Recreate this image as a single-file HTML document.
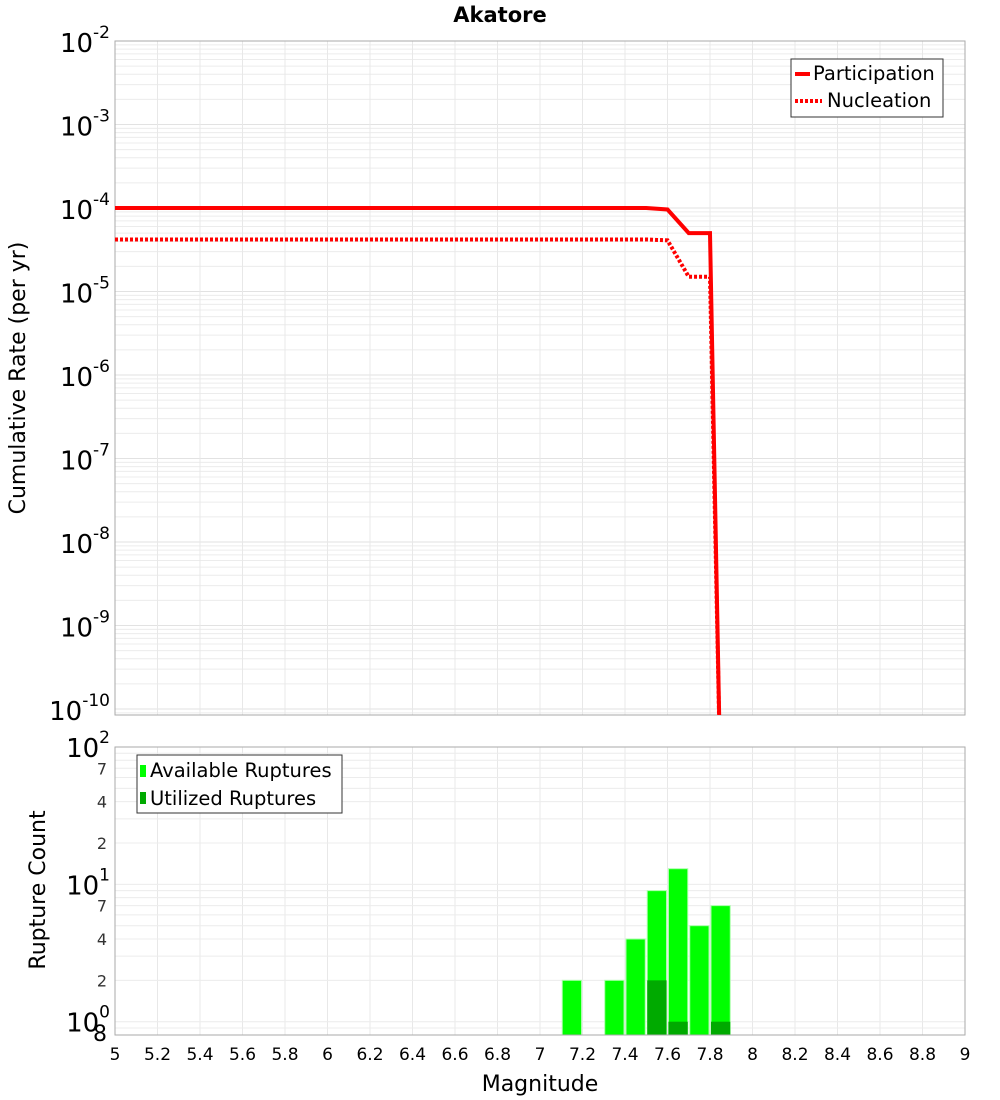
<!DOCTYPE html>
<html><head><meta charset="utf-8"><style>
body{margin:0;background:#fff;font-family:"Liberation Sans","DejaVu Sans",sans-serif}
svg{display:block}
</style></head><body>
<svg id="c" width="1000" height="1100" xmlns="http://www.w3.org/2000/svg">
<defs><clipPath id="clipT"><rect x="115" y="41" width="850" height="674"/></clipPath></defs>
<text x="500" y="22" text-anchor="middle" font-size="21" font-weight="bold" font-family="DejaVu Sans, sans-serif">Akatore</text>
<g id="gtop"></g><g id="gbot"></g>
<text transform="translate(25,378) rotate(-90)" text-anchor="middle" font-size="22" font-family="DejaVu Sans, sans-serif">Cumulative Rate (per yr)</text>
<text transform="translate(45,890) rotate(-90)" text-anchor="middle" font-size="22" font-family="DejaVu Sans, sans-serif">Rupture Count</text>
<text x="540" y="1091" text-anchor="middle" font-size="22" font-family="DejaVu Sans, sans-serif">Magnitude</text>
<g id="legs"></g>
</svg>
<script>
const mags=[5,7.5,7.6,7.7,7.8,7.85];
const partRate=[1e-4,1e-4,9.6e-5,5.0e-5,5.0e-5,1e-11];
const nuclRate=[4.2e-5,4.2e-5,4.1e-5,1.5e-5,1.5e-5,1e-11];
const binStarts=[7.1,7.3,7.4,7.5,7.6,7.7,7.8];
const available=[2,2,4,9,13,5,7];
const utilized=[0,0,0,2,1,0,1];
const xTicks=[5,5.2,5.4,5.6,5.8,6,6.2,6.4,6.6,6.8,7,7.2,7.4,7.6,7.8,8,8.2,8.4,8.6,8.8,9];
const NS="http://www.w3.org/2000/svg";
const X0=115,X1=965;
const xs=m=>X0+(m-5)/4*(X1-X0);
const TT=41,TB=715,tMax=-2,tMin=-2-(TB-TT)/83.5;
const yt=v=>TT+(tMax-Math.log10(v))/(tMax-tMin)*(TB-TT);
const BT=747,BB=1035,bMax=2,bMin=Math.log10(0.8);
const yb=v=>BT+(bMax-Math.log10(Math.max(v,0.8)))/(bMax-bMin)*(BB-BT);
function mk(p,t,a){const e=document.createElementNS(NS,t);for(const k in a)e.setAttribute(k,a[k]);p.appendChild(e);return e;}
const gTop=document.getElementById('gtop'),gBot=document.getElementById('gbot');
for(let d=-11;d<-2;d++)for(let k=1;k<10;k++){const v=k*Math.pow(10,d);const yy=yt(v);if(yy<TT||yy>TB)continue;
const l=mk(gTop,'line',{x1:X0,x2:X1,y1:yy,y2:yy,stroke:k==1?'#e2e2e2':'#ececec','stroke-width':1});

}
xTicks.forEach(m=>{[gTop,gBot].forEach((g,i)=>{const l=mk(g,'line',{x1:xs(m),x2:xs(m),y1:i?BT:TT,y2:i?BB:TB,stroke:'#e8e8e8'});

});
const t=mk(gBot,'text',{x:xs(m),y:1060,'text-anchor':'middle','font-size':17,'font-family':'DejaVu Sans, sans-serif'});t.textContent=String(m);

});
for(let d=-10;d<=-2;d++){const t=mk(gTop,'text',{x:110,y:yt(Math.pow(10,d))+11,'text-anchor':'end','font-size':26,'font-family':'DejaVu Sans, sans-serif'});


const a=mk(t,'tspan',{});a.textContent='10';const s=mk(t,'tspan',{dy:-14,'font-size':17});s.textContent=String(d);}
mk(gTop,'rect',{x:X0,y:TT,width:X1-X0,height:TB-TT,fill:'none',stroke:'#aaa'});
function line(arr,dash,name){const pts=mags.map((m,i)=>xs(m)+','+yt(arr[i])).join(' ');
const p=mk(gTop,'polyline',{points:pts,fill:'none',stroke:'#f00','stroke-width':4,'stroke-dasharray':dash||'none','clip-path':'url(#clipT)'});

}
line(nuclRate,'3,2','nucleation-line');line(partRate,'','participation-line');
for(let d=-1;d<2;d++)for(let k=1;k<10;k++){const v=k*Math.pow(10,d);if(v<0.8)continue;const yy=yb(v);
const l=mk(gBot,'line',{x1:X0,x2:X1,y1:yy,y2:yy,stroke:'#ececec'});

}
[[100,'10','2'],[10,'10','1'],[1,'10','0']].forEach(([v,b,e])=>{const t=mk(gBot,'text',{x:110,y:yb(v)+10,'text-anchor':'end','font-size':26,'font-family':'DejaVu Sans, sans-serif'});


const a=mk(t,'tspan',{});a.textContent=b;const s=mk(t,'tspan',{dy:-14,'font-size':17});s.textContent=e;});
[70,40,20,7,4,2,0.8].forEach(v=>{const t=mk(gBot,'text',{x:107,y:yb(v)+6,'text-anchor':'end','font-size':v==0.8?22:16,'font-family':'DejaVu Sans, sans-serif',fill:v==0.8?'#000':'#333'});
t.textContent=v==0.8?'8':String(v>=10?v/10:v);

});
binStarts.forEach((m,i)=>{const r=mk(gBot,'rect',{x:xs(m)+1,y:yb(available[i]),width:xs(m+0.1)-xs(m)-2,height:BB-yb(available[i]),fill:'#00ff00',stroke:'#aaffaa','stroke-width':1});


if(utilized[i]>0){const u=mk(gBot,'rect',{x:xs(m)+1,y:yb(utilized[i]),width:xs(m+0.1)-xs(m)-2,height:BB-yb(utilized[i]),fill:'#00aa00'});

}});
mk(gBot,'rect',{x:X0,y:BT,width:X1-X0,height:BB-BT,fill:'none',stroke:'#aaa'});
document.getElementById('legs').innerHTML=`
<g>
<rect x="791" y="59" width="152" height="58" fill="#fff" stroke="#333"/>
<line x1="795" y1="74" x2="810" y2="74" stroke="#f00" stroke-width="4"/>
<text x="813" y="80" font-size="19.5" font-family="DejaVu Sans, sans-serif">Participation</text>
<line x1="795" y1="101" x2="822" y2="101" stroke="#f00" stroke-width="4" stroke-dasharray="3,2"/>
<text x="827" y="107" font-size="19.5" font-family="DejaVu Sans, sans-serif">Nucleation</text>
</g>
<g>
<rect x="137" y="755" width="205" height="58" fill="#fff" stroke="#333"/>
<rect x="140" y="765" width="6" height="12" fill="#00ff00"/>
<text x="150" y="777" font-size="19.5" font-family="DejaVu Sans, sans-serif">Available Ruptures</text>
<rect x="140" y="792" width="6" height="12" fill="#00aa00"/>
<text x="150" y="805" font-size="19.5" font-family="DejaVu Sans, sans-serif">Utilized Ruptures</text>
</g>`;
</script>
</body></html>
